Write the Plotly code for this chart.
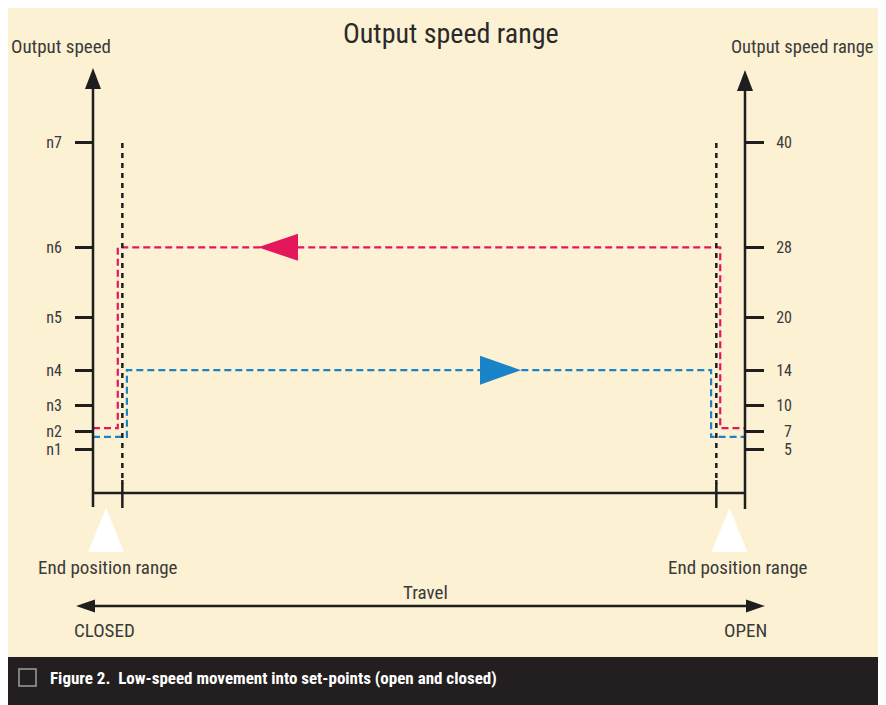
import plotly.graph_objects as go

# ---------------- data ----------------
speed_labels_left = ["n1", "n2", "n3", "n4", "n5", "n6", "n7"]
speed_values = [5, 7, 10, 14, 20, 28, 40]
speed_labels_right = ["\u20075", "\u20077", "10", "14", "20", "28", "40"]

# travel positions (0 = CLOSED, 100 = OPEN)
x_closed = 0
x_open = 100
end_range_left = 4.5
end_range_right = 95.6

# closing run (pink): creep speed near ends, fast speed n6 in the middle
closing_x = [0, 3.8, 3.8, 96.2, 96.2, 100]
closing_y = [7.4, 7.4, 28, 28, 7.4, 7.4]
# opening run (blue): creep speed near ends, fast speed n4 in the middle
opening_x = [0, 5.2, 5.2, 94.8, 94.8, 100]
opening_y = [6.4, 6.4, 14, 14, 6.4, 6.4]

# ---------------- styling constants ----------------
W, H = 886, 705
OFF = 8                       # page offset of the figure inside the browser window
X0_PX, X100_PX = 93 - OFF, 745 - OFF
Y0_PX, Y40_PX = 493 - OFF, 142 - OFF
sx = (X100_PX - X0_PX) / 100.0
sy = (Y0_PX - Y40_PX) / 40.0
XR = [-X0_PX / sx, (W - X0_PX) / sx]
YR = [(Y0_PX - H) / sy, Y0_PX / sy]

def px2x(p):            # screen pixel -> data x
    return (p - OFF - X0_PX) / sx

def px2y(p):            # screen pixel -> data y
    return (Y0_PX - (p - OFF)) / sy

def pfx(p):             # screen pixel -> paper x
    return (p - OFF) / W

def pfy(p):             # screen pixel -> paper y
    return 1 - (p - OFF) / H

PINK = "#E5175C"
BLUE = "#1A84C8"
INK = "#1E1E1E"
TXT = "#3A3A3A"
BG = "#FDF1D4"
BAND = "#231F20"
FONT = "Roboto Condensed, Roboto, sans-serif"

fig = go.Figure()

# speed profile lines
fig.add_trace(go.Scatter(x=closing_x, y=closing_y, mode="lines",
                         line=dict(color=PINK, width=2.2, dash="7px,4px"),
                         hoverinfo="skip", showlegend=False))
fig.add_trace(go.Scatter(x=opening_x, y=opening_y, mode="lines",
                         line=dict(color=BLUE, width=2.2, dash="7px,4px"),
                         hoverinfo="skip", showlegend=False))

# direction arrows on the speed profiles
pink_tip = px2x(258); pink_base = px2x(298); ph = 13.5 / sy
fig.add_trace(go.Scatter(x=[pink_tip, pink_base, pink_base, pink_tip],
                         y=[28, 28 + ph, 28 - ph, 28], mode="lines", fill="toself",
                         fillcolor=PINK, line=dict(color=PINK, width=0),
                         hoverinfo="skip", showlegend=False))
blue_tip = px2x(521); blue_base = px2x(480); bh = 14.5 / sy
fig.add_trace(go.Scatter(x=[blue_tip, blue_base, blue_base, blue_tip],
                         y=[14, 14 + bh, 14 - bh, 14], mode="lines", fill="toself",
                         fillcolor=BLUE, line=dict(color=BLUE, width=0),
                         hoverinfo="skip", showlegend=False))
# dummy trace for second axis
fig.add_trace(go.Scatter(x=[None], y=[None], yaxis="y2", showlegend=False, hoverinfo="skip"))

shapes = []
# caption band
shapes.append(dict(type="rect", xref="paper", yref="paper", x0=0, x1=1,
                   y0=0, y1=pfy(657), fillcolor=BAND, line=dict(width=0), layer="below"))
# checkbox
shapes.append(dict(type="rect", xref="paper", yref="paper", x0=pfx(19), x1=pfx(36),
                   y0=pfy(686), y1=pfy(669), line=dict(color="#A0A0A0", width=1.5)))

# end position dashed markers
for xe in (end_range_left, end_range_right):
    shapes.append(dict(type="line", x0=xe, x1=xe, y0=px2y(143), y1=px2y(484),
                       line=dict(color=INK, width=2.5, dash="5px,5px")))
    shapes.append(dict(type="line", x0=xe, x1=xe, y0=px2y(480), y1=px2y(508),
                       line=dict(color=INK, width=2.5)))

# axes lines
shapes.append(dict(type="line", x0=x_closed, x1=x_closed, y0=px2y(507), y1=px2y(86),
                   line=dict(color=INK, width=2.5)))
shapes.append(dict(type="line", x0=x_open, x1=x_open, y0=px2y(509), y1=px2y(88),
                   line=dict(color=INK, width=2.5)))
shapes.append(dict(type="line", x0=x_closed, x1=x_open, y0=0, y1=0,
                   line=dict(color=INK, width=2.5)))

def tri(x_tip, y_tip, x_a, y_a, x_b, y_b, color):
    return dict(type="path", path=f"M {x_tip},{y_tip} L {x_a},{y_a} L {x_b},{y_b} Z",
                fillcolor=color, line=dict(width=0))

hw = 8 / sx
shapes.append(tri(x_closed, px2y(68), x_closed - hw, px2y(89), x_closed + hw, px2y(89), INK))
shapes.append(tri(x_open, px2y(70), x_open - hw, px2y(91), x_open + hw, px2y(91), INK))

# white end-position triangles
shapes.append(tri(px2x(106), px2y(508), px2x(88), px2y(552), px2x(124), px2y(552), "white"))
shapes.append(tri(px2x(729.5), px2y(508), px2x(711.5), px2y(552), px2x(747.5), px2y(552), "white"))

# travel double arrow
ty = px2y(606)
shapes.append(dict(type="line", x0=px2x(90), x1=px2x(750), y0=ty, y1=ty,
                   line=dict(color=INK, width=2.5)))
ah = 6.5 / sy
shapes.append(tri(px2x(76), ty, px2x(95), ty + ah, px2x(95), ty - ah, INK))
shapes.append(tri(px2x(765), ty, px2x(746), ty + ah, px2x(746), ty - ah, INK))

annotations = []
def txt(text, x, y, size, xanchor="center", color=TXT, xref="x", yref="y", bold=False, family=FONT):
    annotations.append(dict(text=f"<b>{text}</b>" if bold else text, x=x, y=y, xref=xref, yref=yref,
                            xanchor=xanchor, yanchor="middle", showarrow=False,
                            font=dict(family=family, size=size, color=color)))

txt("Output speed range", pfx(451), pfy(33), 28, xref="paper", yref="paper", color="#2A2A2A")
txt("Output speed", pfx(9), pfy(47), 19, xanchor="left", xref="paper", yref="paper")
txt("Output speed range", pfx(876), pfy(47), 18.5, xanchor="right", xref="paper", yref="paper")
txt("End position range", px2x(108), px2y(567), 19)
txt("End position range", px2x(738), px2y(567), 19)
txt("Travel", px2x(425), px2y(592), 19)
txt("CLOSED", px2x(104), px2y(630), 19)
txt("OPEN", px2x(745), px2y(630), 19)
txt("Figure 2.  Low-speed movement into set-points (open and closed)", pfx(48), pfy(678), 17,
    xanchor="left", color="white", xref="paper", yref="paper", bold=True)

fig.update_layout(
    width=W, height=H, margin=dict(l=0, r=0, t=0, b=0, pad=0),
    paper_bgcolor=BG, plot_bgcolor="rgba(0,0,0,0)",
    showlegend=False, shapes=shapes, annotations=annotations,
    xaxis=dict(range=XR, visible=False, fixedrange=True),
    yaxis=dict(range=YR, anchor="free", position=X0_PX / W, side="left",
               showgrid=False, zeroline=False, showline=False, automargin=False,
               tickmode="array", tickvals=speed_values, ticktext=speed_labels_left,
               ticks="outside", ticklen=18, tickwidth=2.5, tickcolor=INK,
               ticklabelstandoff=10,
               tickfont=dict(family=FONT, size=16, color=TXT), fixedrange=True),
    yaxis2=dict(range=YR, overlaying="y", anchor="free", position=X100_PX / W, side="right",
                showgrid=False, zeroline=False, showline=False, automargin=False,
                tickmode="array", tickvals=speed_values, ticktext=speed_labels_right,
                ticks="outside", ticklen=18, tickwidth=2.5, tickcolor=INK,
                ticklabelstandoff=9,
                tickfont=dict(family=FONT, size=16, color=TXT), fixedrange=True),
)

fig.write_html("out.html")
